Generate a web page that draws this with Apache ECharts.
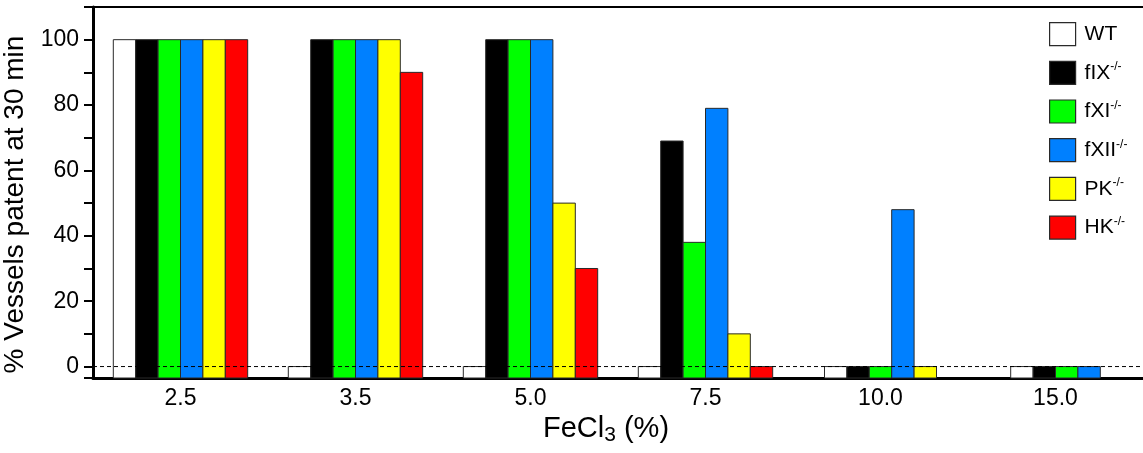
<!DOCTYPE html>
<html>
<head>
<meta charset="utf-8">
<script src="https://cdn.jsdelivr.net/npm/echarts@6/dist/echarts.min.js"></script>
<style>
  html, body { margin: 0; padding: 0; background: #fff; }
  #chart { width: 1143px; height: 453px; }
</style>
</head>
<body>
<div id="chart"></div>
<script>
// FeCl3 concentration groups
var categories = ['2.5', '3.5', '5.0', '7.5', '10.0', '15.0'];

// % vessels patent at 30 min, null = not tested
var wt   = [100, 0, 0, 0, 0, 0];
var fIX  = [100, 100, 100, 69, 0, 0];
var fXI  = [100, 100, 100, 38, 0, 0];
var fXII = [100, 100, 100, 79, 48, 0];
var pk   = [100, 100, 50, 10, 0, null];
var hk   = [100, 90, 30, 0, null, null];

var names = ['WT', 'fIX-/-', 'fXI-/-', 'fXII-/-', 'PK-/-', 'HK-/-'];
var colors = ['#ffffff', '#000000', '#00ff00', '#0080ff', '#ffff00', '#ff0000'];
var allData = [wt, fIX, fXI, fXII, pk, hk];

var yMin = -3.5, yMax = 110;
var refLine = 0; // dashed reference at 0 %
var font = 'Liberation Sans, Arial, sans-serif';

// which genotypes have a bar in each group (groups are centred on what's present)
var present = categories.map(function (c, i) {
  var list = [];
  allData.forEach(function (arr, s) { if (arr[i] != null) list.push(s); });
  return list;
});

function renderBar(params, api) {
  var cat = api.value(0);
  var val = api.value(1);
  var s = params.seriesIndex;
  var band = api.size([1, 0])[0];
  var w = band * 0.128;
  var list = present[cat];
  var rank = list.indexOf(s);
  var base = api.coord([cat, yMin]);
  var top = api.coord([cat, val]);
  var x0 = base[0] - list.length * w / 2 + rank * w;
  return {
    type: 'rect',
    shape: { x: x0, y: top[1], width: w, height: base[1] - top[1] },
    style: { fill: colors[s], stroke: '#2a2a2a', lineWidth: 1 }
  };
}

// dashed line across the whole plot at refLine
function renderRef(params, api) {
  var y = api.coord([0, api.value(1)])[1];
  var cs = params.coordSys;
  return {
    type: 'line',
    shape: { x1: cs.x, y1: y, x2: cs.x + cs.width, y2: y },
    style: { stroke: '#000', lineWidth: 1, lineDash: [4, 3] }
  };
}

var series = allData.map(function (arr, s) {
  var d = [];
  arr.forEach(function (v, i) { if (v != null) d.push([i, v]); });
  return {
    name: names[s],
    type: 'custom',
    renderItem: renderBar,
    encode: { x: 0, y: 1 },
    itemStyle: { color: colors[s], borderColor: '#2a2a2a', borderWidth: 1 },
    data: d
  };
});
series.push({
  name: 'zero',
  type: 'custom',
  renderItem: renderRef,
  encode: { x: 0, y: 1 },
  z: 5,
  silent: true,
  data: [[0, refLine]]
});

var myChart = echarts.init(document.getElementById('chart'));
myChart.setOption({
  animation: false,
  textStyle: { fontFamily: font },
  grid: { left: 93, right: 0, top: 7, bottom: 75, outerBoundsMode: 'none', containLabel: false },
  legend: {
    orient: 'vertical',
    left: 1044,
    top: 17,
    itemWidth: 26,
    itemHeight: 23,
    itemGap: 14.5,
    icon: 'rect',
    itemStyle: { borderColor: '#2a2a2a', borderWidth: 1.2 },
    data: names,
    formatter: function (name) {
      var k = name.indexOf('-/-');
      if (k < 0) return '{b|' + name + '}';
      return '{b|' + name.slice(0, k) + '}{sup|-/-}';
    },
    textStyle: {
      padding: [0, 0, 0, 4],
      rich: {
        b: { fontSize: 21, lineHeight: 24, color: '#000', fontFamily: font },
        sup: { fontSize: 12, lineHeight: 12, verticalAlign: 'top', color: '#000', fontFamily: font }
      }
    }
  },
  xAxis: [{
    type: 'category',
    data: categories,
    boundaryGap: true,
    axisLine: { onZero: false, lineStyle: { color: '#000', width: 3 } },
    axisTick: { interval: 0, length: 15, lineStyle: { color: '#000', width: 2 } },
    axisLabel: { fontSize: 23, color: '#000', margin: 9 },
    name: '{a|FeCl}{sub|3}{a| (%)}',
    nameLocation: 'middle',
    nameGap: 31,
    nameTextStyle: {
      padding: [0, 24, 0, 0],
      rich: {
        a: { fontSize: 29, lineHeight: 32, color: '#000', fontFamily: font },
        sub: { fontSize: 21, lineHeight: 14, verticalAlign: 'bottom', color: '#000', fontFamily: font }
      }
    }
  }, {
    type: 'category',
    position: 'top',
    data: categories,
    axisLine: { onZero: false, lineStyle: { color: '#000', width: 2 } },
    axisTick: { show: false },
    axisLabel: { show: false }
  }],
  yAxis: {
    type: 'value',
    min: yMin,
    max: yMax,
    minInterval: 10,
    maxInterval: 10,
    splitLine: { show: false },
    axisLine: { show: true, onZero: false, lineStyle: { color: '#000', width: 3 } },
    axisTick: { show: true, length: 9, lineStyle: { color: '#000', width: 2 } },
    axisLabel: {
      fontSize: 23,
      color: '#000',
      margin: 14,
      formatter: function (v) { return (v >= 0 && v <= 100 && v % 20 === 0) ? String(v) : ''; }
    },
    name: '% Vessels patent at 30 min',
    nameLocation: 'middle',
    nameGap: 51,
    nameTextStyle: { fontSize: 28, color: '#000', padding: [0, 24, 0, 0] }
  },
  series: series
});
</script>
</body>
</html>
